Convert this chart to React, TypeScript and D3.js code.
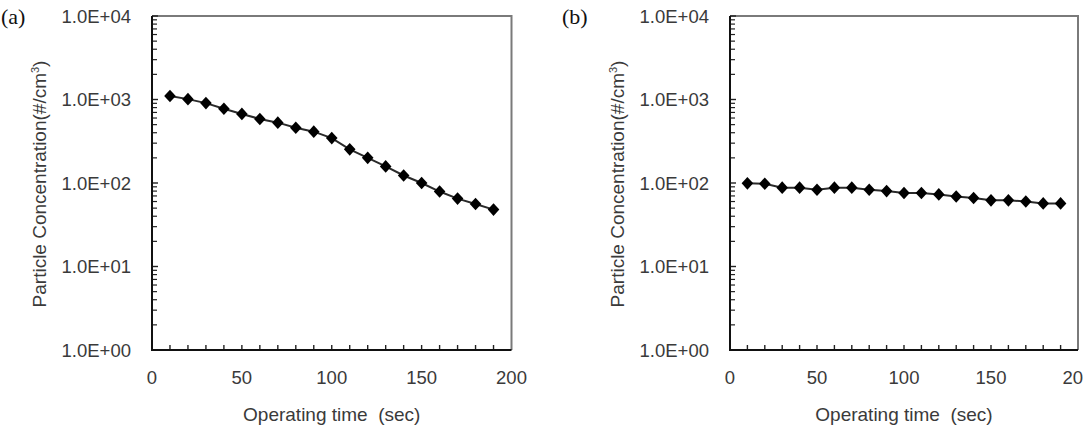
import React from "react";
import { scaleLinear, scaleLog, line, range } from "d3";

// operating time (sec) of each reading
const times = [10, 20, 30, 40, 50, 60, 70, 80, 90, 100, 110, 120, 130, 140, 150, 160, 170, 180, 190];

// particle concentration (#/cm3), panel (a)
const concA = [1100, 1010, 905, 775, 672, 585, 528, 458, 412, 345, 253, 200, 158, 123, 100, 79, 65, 56, 48];

// particle concentration (#/cm3), panel (b)
const concB = [99, 98, 88, 88, 83, 88, 88, 83, 80, 76, 76, 73, 69, 66, 62, 62, 60, 57, 57];

const xTicks = [0, 50, 100, 150, 200];
const yTicks = [1, 10, 100, 1000, 10000];
const yTickLabels = ["1.0E+00", "1.0E+01", "1.0E+02", "1.0E+03", "1.0E+04"];

const SANS = "'Liberation Sans', Arial, sans-serif";
const SERIF = "'Liberation Serif', 'Times New Roman', serif";

interface PanelProps {
  tag: string;
  tagX: number;
  left: number;
  right: number;
  values: number[];
}

function Panel({ tag, tagX, left, right, values }: PanelProps) {
  const top = 16;
  const bottom = 350;

  const x = scaleLinear().domain([0, 200]).range([left, right]);
  const y = scaleLog().domain([1, 10000]).range([bottom, top]);

  const pts = times.map((t, i) => [x(t), y(values[i])] as [number, number]);
  const path = line()(pts) ?? "";

  // minor log ticks 2..9 in each decade
  const minor: number[] = [];
  [1, 10, 100, 1000].forEach((d) => range(2, 10).forEach((k) => minor.push(d * k)));

  const diamond = "M0,-6.3L5.8,0L0,6.3L-5.8,0Z";

  return (
    <g>
      <text x={tagX} y={24} fontFamily={SERIF} fontSize={22} fill="#111">
        {tag}
      </text>

      {/* top and right frame */}
      <path
        d={`M${left},${top}H${right}V${bottom}`}
        fill="none"
        stroke="#7a7a7a"
        strokeWidth={2}
      />

      {/* y ticks */}
      {minor.map((v, i) => (
        <line key={`m-${i}`} x1={left} x2={left + 5} y1={y(v)} y2={y(v)} stroke="#222" strokeWidth={1.2} />
      ))}
      {yTicks.map((v, i) => (
        <line key={`M-${i}`} x1={left} x2={left + 6} y1={y(v)} y2={y(v)} stroke="#222" strokeWidth={1.4} />
      ))}

      {/* x ticks */}
      {range(10, 200, 10).map((v) => (
        <line key={`x-${v}`} x1={x(v)} x2={x(v)} y1={bottom} y2={bottom - 5} stroke="#222" strokeWidth={1.4} />
      ))}

      {/* left and bottom axis lines */}
      <path d={`M${left},${top}V${bottom}H${right}`} fill="none" stroke="#111" strokeWidth={2} />

      {/* y labels */}
      {yTicks.map((v, i) => (
        <text
          key={`yl-${i}`}
          x={left - 21}
          y={y(v)}
          textAnchor="end"
          dominantBaseline="central"
          fontFamily={SANS}
          fontSize={18.5}
          fill="#3a3a3a"
        >
          {yTickLabels[i]}
        </text>
      ))}

      {/* x labels */}
      {xTicks.map((v) => (
        <text
          key={`xl-${v}`}
          x={x(v)}
          y={377}
          textAnchor="middle"
          dominantBaseline="central"
          fontFamily={SANS}
          fontSize={18.5}
          fill="#3a3a3a"
        >
          {v}
        </text>
      ))}

      {/* axis titles */}
      <text
        x={(left + right) / 2}
        y={421}
        textAnchor="middle"
        fontFamily={SANS}
        fontSize={19}
        fill="#3a3a3a"
        xmlSpace="preserve"
      >
        {"Operating time  (sec)"}
      </text>
      <text
        transform={`translate(${left - 106},${184}) rotate(-90)`}
        textAnchor="middle"
        fontFamily={SANS}
        fontSize={19}
        fill="#3a3a3a"
      >
        Particle Concentration(#/cm
        <tspan fontSize={11} dy={-7}>3</tspan>
        <tspan dy={7}>)</tspan>
      </text>

      {/* series */}
      <path d={path} fill="none" stroke="#2a2a2a" strokeWidth={2} />
      {pts.map(([px, py], i) => (
        <path key={`p-${i}`} d={diamond} transform={`translate(${px},${py})`} fill="#000" />
      ))}
    </g>
  );
}

export default function App() {
  return (
    <svg
      width={1083}
      height={427}
      style={{ position: "absolute", left: 0, top: 0, background: "#fff" }}
    >
      <Panel tag="(a)" tagX={1} left={152} right={511.5} values={concA} />
      <Panel tag="(b)" tagX={562} left={730} right={1078} values={concB} />
    </svg>
  );
}
